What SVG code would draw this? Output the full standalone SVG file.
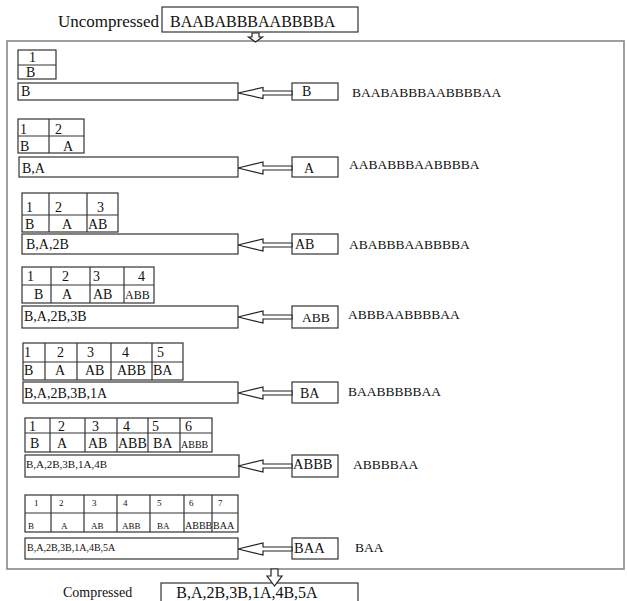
<svg xmlns="http://www.w3.org/2000/svg" width="627" height="601" viewBox="0 0 627 601">
<style>
text{font-family:"Liberation Serif","Times New Roman",serif;fill:#111}
.box{fill:#fff;stroke:#333;stroke-width:1.2}
.tbl{fill:none;stroke:#333;stroke-width:1.2}
.outer{fill:none;stroke:#888;stroke-width:1.6}
.arr{fill:#fff;stroke:#222;stroke-width:1.2;stroke-linejoin:miter}
.f14{font-size:14px}
.f13{font-size:13.5px}
.f16{font-size:16px}
.f11{font-size:11px}
.f10{font-size:10px}
.f9{font-size:9px}
</style>
<rect x="0" y="0" width="627" height="601" fill="#fff"/>

<g id="uncompressed">
<text x="58" y="27" style="font-size:17px">Uncompressed</text>
<rect class="box" x="162" y="7" width="196" height="25"/>
<text class="f16" x="170" y="27">BAABABBBAABBBBA</text>
</g>

<g id="process">
<rect class="outer" x="7" y="41" width="617" height="528"/>
</g>

<!-- Row 1 -->
<g id="dict1">
<rect class="tbl" x="18" y="50" width="38" height="29"/>
<line class="tbl" x1="18" y1="65" x2="56" y2="65"/>
<text class="f14" x="29" y="62">1</text>
<text class="f14" x="26" y="77">B</text>
</g>
<g id="out1"><rect class="box" x="18" y="83" width="220" height="17"/><text class="f14" x="21" y="96">B</text></g>
<g id="in1"><rect class="box" x="292" y="83" width="46" height="17"/><text class="f14" x="302" y="96">B</text></g>
<g id="rest1"><text class="f13" x="352" y="97">BAABABBBAABBBBAA</text></g>

<!-- Row 2 -->
<g id="dict2">
<rect class="tbl" x="18" y="119" width="66" height="34"/>
<line class="tbl" x1="18" y1="136" x2="84" y2="136"/>
<line class="tbl" x1="49" y1="119" x2="49" y2="153"/>
<text class="f14" x="20" y="134">1</text><text class="f14" x="55" y="134">2</text>
<text class="f14" x="20" y="151">B</text><text class="f14" x="63" y="151">A</text>
</g>
<g id="out2"><rect class="box" x="19" y="157" width="219" height="20"/><text class="f14" x="22" y="173">B,A</text></g>
<g id="in2"><rect class="box" x="292" y="157" width="46" height="20"/><text class="f14" x="304" y="173">A</text></g>
<g id="rest2"><text class="f13" x="349" y="169">AABABBBAABBBBA</text></g>

<!-- Row 3 -->
<g id="dict3">
<rect class="tbl" x="22" y="193" width="96" height="39"/>
<line class="tbl" x1="22" y1="215" x2="118" y2="215"/>
<line class="tbl" x1="49" y1="193" x2="49" y2="232"/>
<line class="tbl" x1="87" y1="193" x2="87" y2="232"/>
<text class="f14" x="26" y="212">1</text><text class="f14" x="55" y="212">2</text><text class="f14" x="97" y="212">3</text>
<text class="f14" x="25" y="229">B</text><text class="f14" x="62" y="229">A</text><text class="f14" x="88" y="229">AB</text>
</g>
<g id="out3"><rect class="box" x="22" y="234" width="216" height="20"/><text class="f14" x="26" y="249">B,A,2B</text></g>
<g id="in3"><rect class="box" x="292" y="234" width="46" height="20"/><text class="f14" x="295" y="249">AB</text></g>
<g id="rest3"><text class="f13" x="349" y="249">ABABBBAABBBBA</text></g>

<!-- Row 4 -->
<g id="dict4">
<rect class="tbl" x="22" y="267" width="132" height="36"/>
<line class="tbl" x1="22" y1="285" x2="154" y2="285"/>
<line class="tbl" x1="51" y1="267" x2="51" y2="303"/>
<line class="tbl" x1="90" y1="267" x2="90" y2="303"/>
<line class="tbl" x1="124" y1="267" x2="124" y2="303"/>
<text class="f14" x="27" y="281">1</text><text class="f14" x="62" y="281">2</text><text class="f14" x="93" y="281">3</text><text class="f14" x="138" y="281">4</text>
<text class="f14" x="34" y="299">B</text><text class="f14" x="62" y="299">A</text><text class="f14" x="93" y="299">AB</text><text style="font-size:12px" x="125" y="299">ABB</text>
</g>
<g id="out4"><rect class="box" x="22" y="306" width="216" height="22"/><text class="f14" x="24" y="321">B,A,2B,3B</text></g>
<g id="in4"><rect class="box" x="292" y="306" width="46" height="22"/><text class="f13" x="302" y="322">ABB</text></g>
<g id="rest4"><text class="f13" x="348" y="319">ABBBAABBBBAA</text></g>

<!-- Row 5 -->
<g id="dict5">
<rect class="tbl" x="23" y="343" width="160" height="37"/>
<line class="tbl" x1="23" y1="362" x2="183" y2="362"/>
<line class="tbl" x1="45" y1="343" x2="45" y2="380"/>
<line class="tbl" x1="77" y1="343" x2="77" y2="380"/>
<line class="tbl" x1="111" y1="343" x2="111" y2="380"/>
<line class="tbl" x1="152" y1="343" x2="152" y2="380"/>
<text class="f14" x="24" y="357">1</text><text class="f14" x="57" y="357">2</text><text class="f14" x="87" y="357">3</text><text class="f14" x="122" y="357">4</text><text class="f14" x="157" y="357">5</text>
<text class="f14" x="24" y="375">B</text><text class="f14" x="55" y="375">A</text><text class="f14" x="85" y="375">AB</text><text class="f14" x="117" y="375">ABB</text><text class="f14" x="153" y="375">BA</text>
</g>
<g id="out5"><rect class="box" x="23" y="382" width="215" height="21"/><text class="f14" x="24" y="398">B,A,2B,3B,1A</text></g>
<g id="in5"><rect class="box" x="292" y="382" width="46" height="21"/><text class="f14" x="300" y="398">BA</text></g>
<g id="rest5"><text class="f13" x="348" y="396">BAABBBBBAA</text></g>

<!-- Row 6 -->
<g id="dict6">
<rect class="tbl" x="25" y="418" width="187" height="34"/>
<line class="tbl" x1="25" y1="433" x2="212" y2="433"/>
<line class="tbl" x1="50" y1="418" x2="50" y2="452"/>
<line class="tbl" x1="85" y1="418" x2="85" y2="452"/>
<line class="tbl" x1="117" y1="418" x2="117" y2="452"/>
<line class="tbl" x1="148" y1="418" x2="148" y2="452"/>
<line class="tbl" x1="180" y1="418" x2="180" y2="452"/>
<text class="f14" x="29" y="431">1</text><text class="f14" x="58" y="431">2</text><text class="f14" x="92" y="431">3</text><text class="f14" x="123" y="431">4</text><text class="f14" x="152" y="431">5</text><text class="f14" x="185" y="431">6</text>
<text class="f14" x="30" y="448">B</text><text class="f14" x="57" y="448">A</text><text class="f14" x="88" y="448">AB</text><text class="f14" x="118" y="448">ABB</text><text class="f14" x="153" y="448">BA</text><text class="f10" x="181" y="448">ABBB</text>
</g>
<g id="out6"><rect class="box" x="25" y="455" width="214" height="22"/><text class="f11" x="26" y="468">B,A,2B,3B,1A,4B</text></g>
<g id="in6"><rect class="box" x="292" y="455" width="46" height="22"/><text style="font-size:14.5px" x="293" y="469">ABBB</text></g>
<g id="rest6"><text class="f13" x="353" y="469">ABBBBAA</text></g>

<!-- Row 7 -->
<g id="dict7">
<rect class="tbl" x="25" y="495" width="213" height="37"/>
<line class="tbl" x1="25" y1="513" x2="238" y2="513"/>
<line class="tbl" x1="51" y1="495" x2="51" y2="532"/>
<line class="tbl" x1="84" y1="495" x2="84" y2="532"/>
<line class="tbl" x1="117" y1="495" x2="117" y2="532"/>
<line class="tbl" x1="150" y1="495" x2="150" y2="532"/>
<line class="tbl" x1="184" y1="495" x2="184" y2="532"/>
<line class="tbl" x1="212" y1="495" x2="212" y2="532"/>
<text class="f9" x="34" y="506">1</text><text class="f9" x="59" y="506">2</text><text class="f9" x="92" y="506">3</text><text class="f9" x="123" y="506">4</text><text class="f9" x="157" y="506">5</text><text class="f9" x="189" y="506">6</text><text class="f9" x="218" y="506">7</text>
<text class="f9" x="28" y="529">B</text><text class="f9" x="61" y="529">A</text><text class="f9" x="91" y="529">AB</text><text class="f9" x="122" y="529">ABB</text><text class="f9" x="157" y="529">BA</text><text class="f10" x="185" y="529">ABBB</text><text class="f10" x="213" y="529">BAA</text>
</g>
<g id="out7"><rect class="box" x="25" y="538" width="213" height="21"/><text class="f10" x="27" y="551">B,A,2B,3B,1A,4B,5A</text></g>
<g id="in7"><rect class="box" x="292" y="538" width="46" height="21"/><text style="font-size:14.5px" x="294" y="553">BAA</text></g>
<g id="rest7"><text class="f13" x="355" y="552">BAA</text></g>

<g id="compressed">
<text class="f14" x="63" y="597">Compressed</text>
<rect class="box" x="161" y="583" width="197" height="30"/>
<text class="f16" x="247" y="598" text-anchor="middle">B,A,2B,3B,1A,4B,5A</text>
</g>

<g id="connectors">
<path class="arr" d="M255.5 42 L248.5 37 L252 37 L252 33 L259 33 L259 37 L262.5 37 Z"/>
<path class="arr" d="M274.5 586 L267 576 L271 576 L271 569 L278 569 L278 576 L282 576 Z"/>
<path class="arr" d="M238 93 L263 87.5 L263 91 L292 91 L292 95 L263 95 L263 98.5 Z"/>
<path class="arr" d="M238 168 L263 162 L263 166 L292 166 L292 170 L263 170 L263 174 Z"/>
<path class="arr" d="M238 245 L263 239 L263 243 L292 243 L292 247 L263 247 L263 251 Z"/>
<path class="arr" d="M238 317 L263 311 L263 315 L292 315 L292 319 L263 319 L263 323 Z"/>
<path class="arr" d="M238 393 L263 387 L263 391 L292 391 L292 395 L263 395 L263 399 Z"/>
<path class="arr" d="M238 466 L263 460 L263 464 L292 464 L292 468 L263 468 L263 472 Z"/>
<path class="arr" d="M238 549 L263 543 L263 547 L292 547 L292 551 L263 551 L263 555 Z"/>
</g>
</svg>
